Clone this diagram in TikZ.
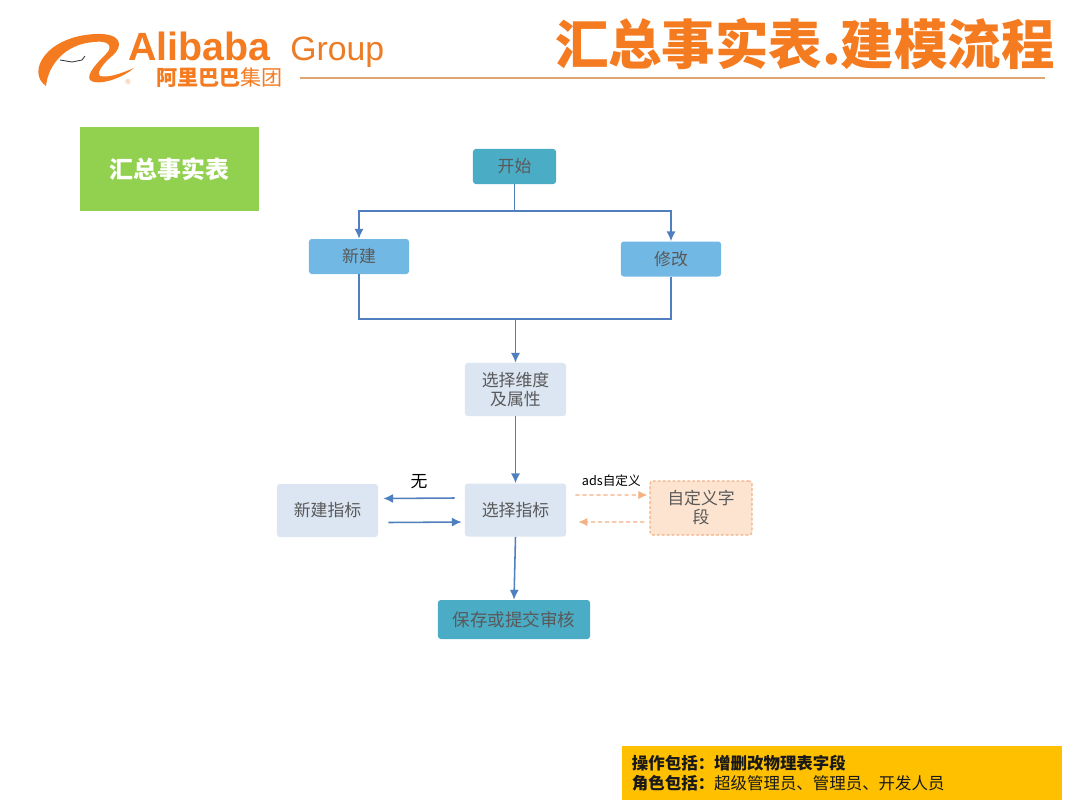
\documentclass[tikz,border=0pt]{standalone}
\usepackage{fontspec}
\setmainfont{Noto Sans CJK SC}
\newfontfamily\logofont{Liberation Sans}
\usetikzlibrary{arrows.meta}

\definecolor{titleorange}{HTML}{F47B20}
\definecolor{ruleorange}{HTML}{DDA672}
\definecolor{tealfill}{HTML}{4BACC6}
\definecolor{bluefill}{HTML}{71B8E4}
\definecolor{palefill}{HTML}{DCE6F2}
\definecolor{peachfill}{HTML}{FCE4D0}
\definecolor{dashorange}{HTML}{F4B183}
\definecolor{linkblue}{HTML}{4F7FBF}
\definecolor{boxtext}{HTML}{595959}
\definecolor{greenfill}{HTML}{92D050}
\definecolor{notefill}{HTML}{FFC000}

\tikzset{
  box/.style={rounded corners=2pt,inner sep=0pt,text=boxtext,align=center,font=\fontsize{12}{13.5}\selectfont},
  tealbox/.style={box,fill=tealfill},
  bluebox/.style={box,fill=bluefill},
  palebox/.style={box,fill=palefill},
  link/.style={>={Latex[length=7pt,width=6.5pt]},->,line width=1.1pt,draw=linkblue},
  linkline/.style={line width=1.1pt,draw=linkblue},
  dashlink/.style={>={Latex[length=6.5pt,width=6pt]},->,line width=1pt,draw=dashorange,dash pattern=on 3pt off 2pt},
}

\begin{document}
\begin{tikzpicture}[x=0.025cm,y=-0.025cm]

\fill[white] (0,0) rectangle (1080,810);
\useasboundingbox (0,0) rectangle (1080,810);

\fill[titleorange] (46,86) .. controls (26,72) and (46,36) .. (96,34) .. controls (122,33) and (124,46) .. (112,56) .. controls (104,63) and (96,72) .. (100,76) .. controls (108,78) and (120,74) .. (134,68) .. controls (120,80) and (96,86) .. (90,80) .. controls (86,74) and (98,62) .. (106,54) .. controls (114,46) and (108,40) .. (94,42) .. controls (64,44) and (48,66) .. (46,86) -- cycle;
\draw[black!80,line width=0.6pt] (60,60) -- (72,62) -- (82,60) -- (85,56);
\node[titleorange!70,font=\logofont\fontsize{5}{5}\selectfont] (reg) at (128,82) {\textregistered};
\node[anchor=base west,inner sep=0pt,text=titleorange,font=\logofont\bfseries\fontsize{28}{28}\selectfont] (alibaba) at (128,60) {Alibaba};
\node[anchor=base west,inner sep=0pt,text=titleorange!85!brown,font=\logofont\fontsize{24}{24}\selectfont] (group) at (290,60) {Group};
\node[anchor=base west,inner sep=0pt,text=titleorange,font=\bfseries\fontsize{15}{15}\selectfont] (alicn) at (156,85) {阿里巴巴\mdseries 集团};
\draw[ruleorange,line width=0.8pt] (300,78) -- (1045,78);
\node[anchor=base east,inner sep=0pt,text=titleorange,font=\bfseries\fontsize{38}{38}\selectfont] (title) at (1055,64) {汇总事实表.建模流程};

\node[fill=greenfill,minimum width=4.475cm,minimum height=2.1cm,inner sep=0pt,text=white,font=\bfseries\fontsize{17}{17}\selectfont] (tag) at (169.5,169) {汇总事实表};

\node[tealbox,minimum width=2.075cm,minimum height=0.875cm] (kaishi) at (514.5,166.5) {开始};
\node[bluebox,minimum width=2.5cm,minimum height=0.875cm] (xinjian) at (359,256.5) {新建};
\node[bluebox,minimum width=2.5cm,minimum height=0.875cm] (xiugai) at (671,259) {修改};
\node[palebox,minimum width=2.525cm,minimum height=1.325cm] (weidu) at (515.5,389.5) {选择维度\\及属性};
\node[palebox,minimum width=2.525cm,minimum height=1.325cm] (zhibiao) at (515.5,510) {选择指标};
\node[palebox,minimum width=2.525cm,minimum height=1.325cm] (xinzhibiao) at (327.5,510.5) {新建指标};
\node[box,fill=peachfill,draw=dashorange,dash pattern=on 2pt off 1.5pt,line width=0.8pt,minimum width=2.55cm,minimum height=1.35cm] (zidingyi) at (701,508) {自定义字\\段};
\node[tealbox,minimum width=3.8cm,minimum height=0.975cm,font=\fontsize{12.5}{13.5}\selectfont] (baocun) at (514,619.5) {保存或提交审核};

\coordinate (split) at (514.5,211);
\coordinate (merge) at (515.5,319);
\draw[linkline] (kaishi.south) -- (split);
\draw[link] (split) -| (xinjian.north);
\draw[link] (split) -| (xiugai.north);
\draw[linkline] (xinjian.south) |- (merge) -| (xiugai.south);
\draw[link] (merge) -- (weidu.north);
\draw[link] (weidu.south) -- (zhibiao.north);
\draw[link] ([xshift=-0.25cm,yshift=0.3cm]zhibiao.west) -- node[above=3pt,text=black,font=\fontsize{12}{12}\selectfont] (wu) {无} ([xshift=0.125cm,yshift=0.3cm]xinzhibiao.east);
\draw[link] ([xshift=0.25cm,yshift=-0.3cm]xinzhibiao.east) -- ([xshift=-0.075cm,yshift=-0.3cm]zhibiao.west);
\draw[link] (zhibiao.south) -- (baocun.north);
\draw[dashlink] ([xshift=0.225cm,yshift=0.375cm]zhibiao.east) -- node[above=2pt,text=black,font=\fontsize{9}{9}\selectfont] (ads) {ads自定义} ([xshift=-0.05cm,yshift=0.325cm]zidingyi.west);
\draw[dashlink] ([xshift=-0.125cm,yshift=-0.35cm]zidingyi.west) -- ([xshift=0.3cm,yshift=-0.3cm]zhibiao.east);

\node[fill=notefill,minimum width=11cm,minimum height=1.35cm,inner xsep=0.25cm,inner ysep=0pt,text width=10.5cm,align=left,text=black!90,font=\fontsize{11.7}{13.8}\selectfont] (note) at (842,773) {\textbf{操作包括：增删改物理表字段}\\\textbf{角色包括：}超级管理员、管理员、开发人员};

\end{tikzpicture}
\end{document}
